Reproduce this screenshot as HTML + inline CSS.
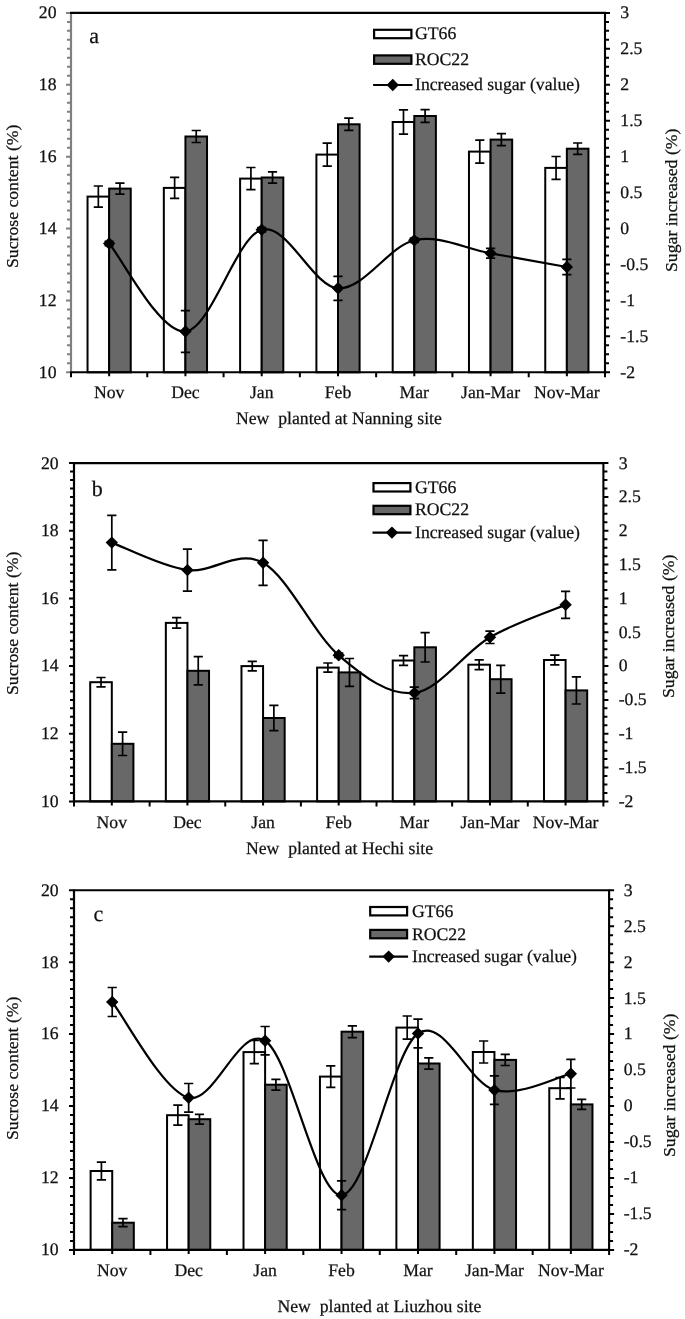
<!DOCTYPE html>
<html><head><meta charset="utf-8"><style>
html,body{margin:0;padding:0;background:#fff;}
body{position:relative;width:685px;height:1319px;overflow:hidden;}
.r{position:absolute;transform-origin:0 0;transform:rotate(-90deg);will-change:transform;font-family:"Liberation Serif", serif;font-size:17.7px;line-height:17.7px;white-space:nowrap;color:#111;-webkit-text-stroke:0.25px #111;}
svg{display:block;filter:grayscale(1);}
.t{font-family:"Liberation Serif", serif;font-size:17.7px;fill:#111;stroke:#111;stroke-width:0.25px;text-rendering:geometricPrecision;}
.p{font-family:"Liberation Serif", serif;font-size:22px;fill:#111;stroke:#111;stroke-width:0.25px;text-rendering:geometricPrecision;}
</style></head><body>
<svg width="685" height="1319" viewBox="0 0 685 1319">
<rect width="685" height="1319" fill="#fff"/>
<rect x="87.54" y="196.60" width="21.60" height="175.70" fill="#fff" stroke="#000" stroke-width="2"/>
<rect x="109.14" y="188.60" width="21.60" height="183.70" fill="#686868" stroke="#000" stroke-width="2"/>
<rect x="163.83" y="187.90" width="21.60" height="184.40" fill="#fff" stroke="#000" stroke-width="2"/>
<rect x="185.43" y="136.50" width="21.60" height="235.80" fill="#686868" stroke="#000" stroke-width="2"/>
<rect x="240.11" y="178.60" width="21.60" height="193.70" fill="#fff" stroke="#000" stroke-width="2"/>
<rect x="261.71" y="177.50" width="21.60" height="194.80" fill="#686868" stroke="#000" stroke-width="2"/>
<rect x="316.40" y="154.60" width="21.60" height="217.70" fill="#fff" stroke="#000" stroke-width="2"/>
<rect x="338.00" y="124.30" width="21.60" height="248.00" fill="#686868" stroke="#000" stroke-width="2"/>
<rect x="392.69" y="122.00" width="21.60" height="250.30" fill="#fff" stroke="#000" stroke-width="2"/>
<rect x="414.29" y="116.00" width="21.60" height="256.30" fill="#686868" stroke="#000" stroke-width="2"/>
<rect x="468.97" y="151.60" width="21.60" height="220.70" fill="#fff" stroke="#000" stroke-width="2"/>
<rect x="490.57" y="139.60" width="21.60" height="232.70" fill="#686868" stroke="#000" stroke-width="2"/>
<rect x="545.26" y="167.90" width="21.60" height="204.40" fill="#fff" stroke="#000" stroke-width="2"/>
<rect x="566.86" y="148.70" width="21.60" height="223.60" fill="#686868" stroke="#000" stroke-width="2"/>
<path d="M98.34,186.00V207.20M93.74,186.00H102.94M93.74,207.20H102.94" stroke="#000" stroke-width="1.7" fill="none"/>
<path d="M119.94,183.10V194.10M115.34,183.10H124.54M115.34,194.10H124.54" stroke="#000" stroke-width="1.7" fill="none"/>
<path d="M174.63,177.40V198.40M170.03,177.40H179.23M170.03,198.40H179.23" stroke="#000" stroke-width="1.7" fill="none"/>
<path d="M196.23,130.50V142.50M191.63,130.50H200.83M191.63,142.50H200.83" stroke="#000" stroke-width="1.7" fill="none"/>
<path d="M250.91,167.50V189.70M246.31,167.50H255.51M246.31,189.70H255.51" stroke="#000" stroke-width="1.7" fill="none"/>
<path d="M272.51,171.80V183.20M267.91,171.80H277.11M267.91,183.20H277.11" stroke="#000" stroke-width="1.7" fill="none"/>
<path d="M327.20,143.10V166.10M322.60,143.10H331.80M322.60,166.10H331.80" stroke="#000" stroke-width="1.7" fill="none"/>
<path d="M348.80,118.20V130.40M344.20,118.20H353.40M344.20,130.40H353.40" stroke="#000" stroke-width="1.7" fill="none"/>
<path d="M403.49,109.80V134.20M398.89,109.80H408.09M398.89,134.20H408.09" stroke="#000" stroke-width="1.7" fill="none"/>
<path d="M425.09,109.70V122.30M420.49,109.70H429.69M420.49,122.30H429.69" stroke="#000" stroke-width="1.7" fill="none"/>
<path d="M479.77,140.10V163.10M475.17,140.10H484.37M475.17,163.10H484.37" stroke="#000" stroke-width="1.7" fill="none"/>
<path d="M501.37,133.60V145.60M496.77,133.60H505.97M496.77,145.60H505.97" stroke="#000" stroke-width="1.7" fill="none"/>
<path d="M556.06,156.50V179.30M551.46,156.50H560.66M551.46,179.30H560.66" stroke="#000" stroke-width="1.7" fill="none"/>
<path d="M577.66,143.00V154.40M573.06,143.00H582.26M573.06,154.40H582.26" stroke="#000" stroke-width="1.7" fill="none"/>
<path d="M66.00,372.30H71.00M67.00,363.31H71.00M67.00,354.33H71.00M67.00,345.35H71.00M67.00,336.36H71.00M67.00,327.38H71.00M67.00,318.39H71.00M67.00,309.40H71.00M66.00,300.42H71.00M67.00,291.44H71.00M67.00,282.45H71.00M67.00,273.47H71.00M67.00,264.48H71.00M67.00,255.50H71.00M67.00,246.51H71.00M67.00,237.53H71.00M66.00,228.54H71.00M67.00,219.55H71.00M67.00,210.57H71.00M67.00,201.58H71.00M67.00,192.60H71.00M67.00,183.61H71.00M67.00,174.63H71.00M67.00,165.64H71.00M66.00,156.66H71.00M67.00,147.67H71.00M67.00,138.69H71.00M67.00,129.70H71.00M67.00,120.72H71.00M67.00,111.73H71.00M67.00,102.75H71.00M67.00,93.76H71.00M66.00,84.78H71.00M67.00,75.79H71.00M67.00,66.81H71.00M67.00,57.82H71.00M67.00,48.84H71.00M67.00,39.85H71.00M67.00,30.87H71.00M67.00,21.88H71.00M66.00,12.90H71.00" stroke="#808080" stroke-width="2" fill="none"/>
<line x1="71.00" y1="12.90" x2="71.00" y2="372.30" stroke="#808080" stroke-width="2.2"/>
<path d="M605.00,372.30H610.00M605.00,363.31H609.00M605.00,354.33H609.00M605.00,345.35H609.00M605.00,336.36H610.00M605.00,327.38H609.00M605.00,318.39H609.00M605.00,309.40H609.00M605.00,300.42H610.00M605.00,291.44H609.00M605.00,282.45H609.00M605.00,273.47H609.00M605.00,264.48H610.00M605.00,255.50H609.00M605.00,246.51H609.00M605.00,237.53H609.00M605.00,228.54H610.00M605.00,219.55H609.00M605.00,210.57H609.00M605.00,201.58H609.00M605.00,192.60H610.00M605.00,183.61H609.00M605.00,174.63H609.00M605.00,165.64H609.00M605.00,156.66H610.00M605.00,147.67H609.00M605.00,138.69H609.00M605.00,129.70H609.00M605.00,120.72H610.00M605.00,111.73H609.00M605.00,102.75H609.00M605.00,93.76H609.00M605.00,84.78H610.00M605.00,75.79H609.00M605.00,66.81H609.00M605.00,57.82H609.00M605.00,48.84H610.00M605.00,39.85H609.00M605.00,30.87H609.00M605.00,21.88H609.00M605.00,12.90H610.00" stroke="#000" stroke-width="2" fill="none"/>
<path d="M71.00,372.30V377.30M147.29,372.30V377.30M223.57,372.30V377.30M299.86,372.30V377.30M376.14,372.30V377.30M452.43,372.30V377.30M528.71,372.30V377.30M605.00,372.30V377.30M109.14,372.30V376.30M185.43,372.30V376.30M261.71,372.30V376.30M338.00,372.30V376.30M414.29,372.30V376.30M490.57,372.30V376.30M566.86,372.30V376.30" stroke="#000" stroke-width="2" fill="none"/>
<path d="M70.00,12.90H605.00V372.30" stroke="#000" stroke-width="2.1" fill="none"/>
<line x1="70.00" y1="372.30" x2="606.00" y2="372.30" stroke="#000" stroke-width="2.1"/>
<path d="M109.14,243.50 C121.86,258.17 160.00,333.80 185.43,331.50 C210.86,329.20 236.29,236.90 261.71,229.70 C287.14,222.50 312.57,286.53 338.00,288.30 C363.43,290.07 388.86,246.13 414.29,240.30 C439.71,234.47 465.14,248.85 490.57,253.30 C516.00,257.75 554.14,264.72 566.86,267.00" stroke="#000" stroke-width="2.2" fill="none"/>
<path d="M109.14,241.30V245.70M104.54,241.30H113.74M104.54,245.70H113.74" stroke="#000" stroke-width="1.7" fill="none"/>
<path d="M109.14,237.30L115.34,243.50L109.14,249.70L102.94,243.50Z" fill="#000"/>
<path d="M185.43,310.70V352.30M180.83,310.70H190.03M180.83,352.30H190.03" stroke="#000" stroke-width="1.7" fill="none"/>
<path d="M185.43,325.30L191.63,331.50L185.43,337.70L179.23,331.50Z" fill="#000"/>
<path d="M261.71,227.50V231.90M257.11,227.50H266.31M257.11,231.90H266.31" stroke="#000" stroke-width="1.7" fill="none"/>
<path d="M261.71,223.50L267.91,229.70L261.71,235.90L255.51,229.70Z" fill="#000"/>
<path d="M338.00,276.30V300.30M333.40,276.30H342.60M333.40,300.30H342.60" stroke="#000" stroke-width="1.7" fill="none"/>
<path d="M338.00,282.10L344.20,288.30L338.00,294.50L331.80,288.30Z" fill="#000"/>
<path d="M414.29,238.10V242.50M409.69,238.10H418.89M409.69,242.50H418.89" stroke="#000" stroke-width="1.7" fill="none"/>
<path d="M414.29,234.10L420.49,240.30L414.29,246.50L408.09,240.30Z" fill="#000"/>
<path d="M490.57,248.40V258.20M485.97,248.40H495.17M485.97,258.20H495.17" stroke="#000" stroke-width="1.7" fill="none"/>
<path d="M490.57,247.10L496.77,253.30L490.57,259.50L484.37,253.30Z" fill="#000"/>
<path d="M566.86,259.30V274.70M562.26,259.30H571.46M562.26,274.70H571.46" stroke="#000" stroke-width="1.7" fill="none"/>
<path d="M566.86,260.80L573.06,267.00L566.86,273.20L560.66,267.00Z" fill="#000"/>
<text x="56.50" y="377.70" text-anchor="end" class="t">10</text>
<text x="56.50" y="305.82" text-anchor="end" class="t">12</text>
<text x="56.50" y="233.94" text-anchor="end" class="t">14</text>
<text x="56.50" y="162.06" text-anchor="end" class="t">16</text>
<text x="56.50" y="90.18" text-anchor="end" class="t">18</text>
<text x="56.50" y="18.30" text-anchor="end" class="t">20</text>
<text x="620.30" y="377.70" class="t">-2</text>
<text x="620.30" y="341.76" class="t">-1.5</text>
<text x="620.30" y="305.82" class="t">-1</text>
<text x="620.30" y="269.88" class="t">-0.5</text>
<text x="620.30" y="233.94" class="t">0</text>
<text x="620.30" y="198.00" class="t">0.5</text>
<text x="620.30" y="162.06" class="t">1</text>
<text x="620.30" y="126.12" class="t">1.5</text>
<text x="620.30" y="90.18" class="t">2</text>
<text x="620.30" y="54.24" class="t">2.5</text>
<text x="620.30" y="18.30" class="t">3</text>
<text x="109.14" y="397.80" text-anchor="middle" class="t">Nov</text>
<text x="185.43" y="397.80" text-anchor="middle" class="t">Dec</text>
<text x="261.71" y="397.80" text-anchor="middle" class="t">Jan</text>
<text x="338.00" y="397.80" text-anchor="middle" class="t">Feb</text>
<text x="414.29" y="397.80" text-anchor="middle" class="t">Mar</text>
<text x="490.57" y="397.80" text-anchor="middle" class="t">Jan-Mar</text>
<text x="566.86" y="397.80" text-anchor="middle" class="t">Nov-Mar</text>
<text x="236.00" y="424.40" class="t" xml:space="preserve">New  planted at Nanning site</text>
<text x="89.20" y="43.00" class="p">a</text>
<rect x="374.10" y="29.80" width="37.30" height="8.40" fill="#fff" stroke="#000" stroke-width="2.2"/>
<rect x="374.10" y="55.40" width="37.30" height="8.40" fill="#686868" stroke="#000" stroke-width="2.2"/>
<line x1="373.10" y1="85.00" x2="412.40" y2="85.00" stroke="#000" stroke-width="2.2"/>
<path d="M392.75,78.80L398.95,85.00L392.75,91.20L386.55,85.00Z" fill="#000"/>
<text x="415.00" y="39.40" class="t">GT66</text>
<text x="415.00" y="64.80" class="t">ROC22</text>
<text x="415.00" y="90.00" class="t">Increased sugar (value)</text>
<rect x="90.21" y="682.20" width="21.60" height="119.20" fill="#fff" stroke="#000" stroke-width="2"/>
<rect x="111.81" y="743.80" width="21.60" height="57.60" fill="#686868" stroke="#000" stroke-width="2"/>
<rect x="165.84" y="622.90" width="21.60" height="178.50" fill="#fff" stroke="#000" stroke-width="2"/>
<rect x="187.44" y="670.80" width="21.60" height="130.60" fill="#686868" stroke="#000" stroke-width="2"/>
<rect x="241.47" y="666.10" width="21.60" height="135.30" fill="#fff" stroke="#000" stroke-width="2"/>
<rect x="263.07" y="718.00" width="21.60" height="83.40" fill="#686868" stroke="#000" stroke-width="2"/>
<rect x="317.10" y="667.60" width="21.60" height="133.80" fill="#fff" stroke="#000" stroke-width="2"/>
<rect x="338.70" y="672.40" width="21.60" height="129.00" fill="#686868" stroke="#000" stroke-width="2"/>
<rect x="392.73" y="660.50" width="21.60" height="140.90" fill="#fff" stroke="#000" stroke-width="2"/>
<rect x="414.33" y="647.30" width="21.60" height="154.10" fill="#686868" stroke="#000" stroke-width="2"/>
<rect x="468.36" y="664.70" width="21.60" height="136.70" fill="#fff" stroke="#000" stroke-width="2"/>
<rect x="489.96" y="679.20" width="21.60" height="122.20" fill="#686868" stroke="#000" stroke-width="2"/>
<rect x="543.99" y="660.00" width="21.60" height="141.40" fill="#fff" stroke="#000" stroke-width="2"/>
<rect x="565.59" y="690.40" width="21.60" height="111.00" fill="#686868" stroke="#000" stroke-width="2"/>
<path d="M101.01,677.50V686.90M96.41,677.50H105.61M96.41,686.90H105.61" stroke="#000" stroke-width="1.7" fill="none"/>
<path d="M122.61,732.10V755.50M118.01,732.10H127.21M118.01,755.50H127.21" stroke="#000" stroke-width="1.7" fill="none"/>
<path d="M176.64,617.70V628.10M172.04,617.70H181.24M172.04,628.10H181.24" stroke="#000" stroke-width="1.7" fill="none"/>
<path d="M198.24,656.70V684.90M193.64,656.70H202.84M193.64,684.90H202.84" stroke="#000" stroke-width="1.7" fill="none"/>
<path d="M252.27,661.30V670.90M247.67,661.30H256.87M247.67,670.90H256.87" stroke="#000" stroke-width="1.7" fill="none"/>
<path d="M273.87,705.40V730.60M269.27,705.40H278.47M269.27,730.60H278.47" stroke="#000" stroke-width="1.7" fill="none"/>
<path d="M327.90,663.00V672.20M323.30,663.00H332.50M323.30,672.20H332.50" stroke="#000" stroke-width="1.7" fill="none"/>
<path d="M349.50,658.50V686.30M344.90,658.50H354.10M344.90,686.30H354.10" stroke="#000" stroke-width="1.7" fill="none"/>
<path d="M403.53,655.60V665.40M398.93,655.60H408.13M398.93,665.40H408.13" stroke="#000" stroke-width="1.7" fill="none"/>
<path d="M425.13,632.60V662.00M420.53,632.60H429.73M420.53,662.00H429.73" stroke="#000" stroke-width="1.7" fill="none"/>
<path d="M479.16,659.80V669.60M474.56,659.80H483.76M474.56,669.60H483.76" stroke="#000" stroke-width="1.7" fill="none"/>
<path d="M500.76,665.30V693.10M496.16,665.30H505.36M496.16,693.10H505.36" stroke="#000" stroke-width="1.7" fill="none"/>
<path d="M554.79,655.10V664.90M550.19,655.10H559.39M550.19,664.90H559.39" stroke="#000" stroke-width="1.7" fill="none"/>
<path d="M576.39,676.80V704.00M571.79,676.80H580.99M571.79,704.00H580.99" stroke="#000" stroke-width="1.7" fill="none"/>
<path d="M69.00,801.40H74.00M70.00,792.94H74.00M70.00,784.49H74.00M70.00,776.03H74.00M70.00,767.57H74.00M70.00,759.11H74.00M70.00,750.65H74.00M70.00,742.20H74.00M69.00,733.74H74.00M70.00,725.28H74.00M70.00,716.83H74.00M70.00,708.37H74.00M70.00,699.91H74.00M70.00,691.45H74.00M70.00,683.00H74.00M70.00,674.54H74.00M69.00,666.08H74.00M70.00,657.62H74.00M70.00,649.16H74.00M70.00,640.71H74.00M70.00,632.25H74.00M70.00,623.79H74.00M70.00,615.34H74.00M70.00,606.88H74.00M69.00,598.42H74.00M70.00,589.96H74.00M70.00,581.50H74.00M70.00,573.05H74.00M70.00,564.59H74.00M70.00,556.13H74.00M70.00,547.67H74.00M70.00,539.22H74.00M69.00,530.76H74.00M70.00,522.30H74.00M70.00,513.85H74.00M70.00,505.39H74.00M70.00,496.93H74.00M70.00,488.47H74.00M70.00,480.01H74.00M70.00,471.56H74.00M69.00,463.10H74.00" stroke="#000" stroke-width="2" fill="none"/>
<line x1="74.00" y1="463.10" x2="74.00" y2="801.40" stroke="#000" stroke-width="2.2"/>
<path d="M603.40,801.40H608.40M603.40,792.94H607.40M603.40,784.49H607.40M603.40,776.03H607.40M603.40,767.57H608.40M603.40,759.11H607.40M603.40,750.65H607.40M603.40,742.20H607.40M603.40,733.74H608.40M603.40,725.28H607.40M603.40,716.83H607.40M603.40,708.37H607.40M603.40,699.91H608.40M603.40,691.45H607.40M603.40,683.00H607.40M603.40,674.54H607.40M603.40,666.08H608.40M603.40,657.62H607.40M603.40,649.16H607.40M603.40,640.71H607.40M603.40,632.25H608.40M603.40,623.79H607.40M603.40,615.34H607.40M603.40,606.88H607.40M603.40,598.42H608.40M603.40,589.96H607.40M603.40,581.50H607.40M603.40,573.05H607.40M603.40,564.59H608.40M603.40,556.13H607.40M603.40,547.67H607.40M603.40,539.22H607.40M603.40,530.76H608.40M603.40,522.30H607.40M603.40,513.85H607.40M603.40,505.39H607.40M603.40,496.93H608.40M603.40,488.47H607.40M603.40,480.01H607.40M603.40,471.56H607.40M603.40,463.10H608.40" stroke="#000" stroke-width="2" fill="none"/>
<path d="M74.00,801.40V806.40M149.63,801.40V806.40M225.26,801.40V806.40M300.89,801.40V806.40M376.51,801.40V806.40M452.14,801.40V806.40M527.77,801.40V806.40M603.40,801.40V806.40M111.81,801.40V805.40M187.44,801.40V805.40M263.07,801.40V805.40M338.70,801.40V805.40M414.33,801.40V805.40M489.96,801.40V805.40M565.59,801.40V805.40" stroke="#000" stroke-width="2" fill="none"/>
<path d="M73.00,463.10H603.40V801.40" stroke="#000" stroke-width="2.1" fill="none"/>
<line x1="73.00" y1="801.40" x2="604.40" y2="801.40" stroke="#000" stroke-width="2.1"/>
<path d="M111.81,542.60 C124.42,547.18 162.23,566.73 187.44,570.10 C212.65,573.47 237.86,548.60 263.07,562.80 C288.28,577.00 313.49,633.62 338.70,655.30 C363.91,676.98 389.12,695.90 414.33,692.90 C439.54,689.90 464.75,651.98 489.96,637.30 C515.17,622.62 552.98,610.22 565.59,604.80" stroke="#000" stroke-width="2.2" fill="none"/>
<path d="M111.81,515.40V569.80M107.21,515.40H116.41M107.21,569.80H116.41" stroke="#000" stroke-width="1.7" fill="none"/>
<path d="M111.81,536.40L118.01,542.60L111.81,548.80L105.61,542.60Z" fill="#000"/>
<path d="M187.44,549.10V591.10M182.84,549.10H192.04M182.84,591.10H192.04" stroke="#000" stroke-width="1.7" fill="none"/>
<path d="M187.44,563.90L193.64,570.10L187.44,576.30L181.24,570.10Z" fill="#000"/>
<path d="M263.07,540.30V585.30M258.47,540.30H267.67M258.47,585.30H267.67" stroke="#000" stroke-width="1.7" fill="none"/>
<path d="M263.07,556.60L269.27,562.80L263.07,569.00L256.87,562.80Z" fill="#000"/>
<path d="M338.70,653.10V657.50M334.10,653.10H343.30M334.10,657.50H343.30" stroke="#000" stroke-width="1.7" fill="none"/>
<path d="M338.70,649.10L344.90,655.30L338.70,661.50L332.50,655.30Z" fill="#000"/>
<path d="M414.33,687.10V698.70M409.73,687.10H418.93M409.73,698.70H418.93" stroke="#000" stroke-width="1.7" fill="none"/>
<path d="M414.33,686.70L420.53,692.90L414.33,699.10L408.13,692.90Z" fill="#000"/>
<path d="M489.96,631.10V643.50M485.36,631.10H494.56M485.36,643.50H494.56" stroke="#000" stroke-width="1.7" fill="none"/>
<path d="M489.96,631.10L496.16,637.30L489.96,643.50L483.76,637.30Z" fill="#000"/>
<path d="M565.59,591.30V618.30M560.99,591.30H570.19M560.99,618.30H570.19" stroke="#000" stroke-width="1.7" fill="none"/>
<path d="M565.59,598.60L571.79,604.80L565.59,611.00L559.39,604.80Z" fill="#000"/>
<text x="58.60" y="806.80" text-anchor="end" class="t">10</text>
<text x="58.60" y="739.14" text-anchor="end" class="t">12</text>
<text x="58.60" y="671.48" text-anchor="end" class="t">14</text>
<text x="58.60" y="603.82" text-anchor="end" class="t">16</text>
<text x="58.60" y="536.16" text-anchor="end" class="t">18</text>
<text x="58.60" y="468.50" text-anchor="end" class="t">20</text>
<text x="618.70" y="806.80" class="t">-2</text>
<text x="618.70" y="772.97" class="t">-1.5</text>
<text x="618.70" y="739.14" class="t">-1</text>
<text x="618.70" y="705.31" class="t">-0.5</text>
<text x="618.70" y="671.48" class="t">0</text>
<text x="618.70" y="637.65" class="t">0.5</text>
<text x="618.70" y="603.82" class="t">1</text>
<text x="618.70" y="569.99" class="t">1.5</text>
<text x="618.70" y="536.16" class="t">2</text>
<text x="618.70" y="502.33" class="t">2.5</text>
<text x="618.70" y="468.50" class="t">3</text>
<text x="111.81" y="827.50" text-anchor="middle" class="t">Nov</text>
<text x="187.44" y="827.50" text-anchor="middle" class="t">Dec</text>
<text x="263.07" y="827.50" text-anchor="middle" class="t">Jan</text>
<text x="338.70" y="827.50" text-anchor="middle" class="t">Feb</text>
<text x="414.33" y="827.50" text-anchor="middle" class="t">Mar</text>
<text x="489.96" y="827.50" text-anchor="middle" class="t">Jan-Mar</text>
<text x="565.59" y="827.50" text-anchor="middle" class="t">Nov-Mar</text>
<text x="246.00" y="853.60" class="t" xml:space="preserve">New  planted at Hechi site</text>
<text x="91.80" y="495.60" class="p">b</text>
<rect x="373.50" y="483.10" width="36.90" height="8.40" fill="#fff" stroke="#000" stroke-width="2.2"/>
<rect x="373.50" y="505.80" width="36.90" height="8.40" fill="#686868" stroke="#000" stroke-width="2.2"/>
<line x1="372.50" y1="532.60" x2="411.40" y2="532.60" stroke="#000" stroke-width="2.2"/>
<path d="M391.95,526.40L398.15,532.60L391.95,538.80L385.75,532.60Z" fill="#000"/>
<text x="415.00" y="493.40" class="t">GT66</text>
<text x="415.00" y="515.40" class="t">ROC22</text>
<text x="415.00" y="538.40" class="t">Increased sugar (value)</text>
<rect x="90.62" y="1171.00" width="21.60" height="78.90" fill="#fff" stroke="#000" stroke-width="2"/>
<rect x="112.22" y="1222.70" width="21.60" height="27.20" fill="#686868" stroke="#000" stroke-width="2"/>
<rect x="167.06" y="1115.20" width="21.60" height="134.70" fill="#fff" stroke="#000" stroke-width="2"/>
<rect x="188.66" y="1119.20" width="21.60" height="130.70" fill="#686868" stroke="#000" stroke-width="2"/>
<rect x="243.51" y="1052.10" width="21.60" height="197.80" fill="#fff" stroke="#000" stroke-width="2"/>
<rect x="265.11" y="1084.70" width="21.60" height="165.20" fill="#686868" stroke="#000" stroke-width="2"/>
<rect x="319.95" y="1076.60" width="21.60" height="173.30" fill="#fff" stroke="#000" stroke-width="2"/>
<rect x="341.55" y="1031.70" width="21.60" height="218.20" fill="#686868" stroke="#000" stroke-width="2"/>
<rect x="396.39" y="1027.60" width="21.60" height="222.30" fill="#fff" stroke="#000" stroke-width="2"/>
<rect x="417.99" y="1063.50" width="21.60" height="186.40" fill="#686868" stroke="#000" stroke-width="2"/>
<rect x="472.84" y="1052.00" width="21.60" height="197.90" fill="#fff" stroke="#000" stroke-width="2"/>
<rect x="494.44" y="1059.90" width="21.60" height="190.00" fill="#686868" stroke="#000" stroke-width="2"/>
<rect x="549.28" y="1088.20" width="21.60" height="161.70" fill="#fff" stroke="#000" stroke-width="2"/>
<rect x="570.88" y="1104.40" width="21.60" height="145.50" fill="#686868" stroke="#000" stroke-width="2"/>
<path d="M101.42,1162.10V1179.90M96.82,1162.10H106.02M96.82,1179.90H106.02" stroke="#000" stroke-width="1.7" fill="none"/>
<path d="M123.02,1218.70V1226.70M118.42,1218.70H127.62M118.42,1226.70H127.62" stroke="#000" stroke-width="1.7" fill="none"/>
<path d="M177.86,1105.20V1125.20M173.26,1105.20H182.46M173.26,1125.20H182.46" stroke="#000" stroke-width="1.7" fill="none"/>
<path d="M199.46,1114.30V1124.10M194.86,1114.30H204.06M194.86,1124.10H204.06" stroke="#000" stroke-width="1.7" fill="none"/>
<path d="M254.31,1040.50V1063.70M249.71,1040.50H258.91M249.71,1063.70H258.91" stroke="#000" stroke-width="1.7" fill="none"/>
<path d="M275.91,1079.30V1090.10M271.31,1079.30H280.51M271.31,1090.10H280.51" stroke="#000" stroke-width="1.7" fill="none"/>
<path d="M330.75,1065.90V1087.30M326.15,1065.90H335.35M326.15,1087.30H335.35" stroke="#000" stroke-width="1.7" fill="none"/>
<path d="M352.35,1025.80V1037.60M347.75,1025.80H356.95M347.75,1037.60H356.95" stroke="#000" stroke-width="1.7" fill="none"/>
<path d="M407.19,1016.00V1039.20M402.59,1016.00H411.79M402.59,1039.20H411.79" stroke="#000" stroke-width="1.7" fill="none"/>
<path d="M428.79,1057.90V1069.10M424.19,1057.90H433.39M424.19,1069.10H433.39" stroke="#000" stroke-width="1.7" fill="none"/>
<path d="M483.64,1041.00V1063.00M479.04,1041.00H488.24M479.04,1063.00H488.24" stroke="#000" stroke-width="1.7" fill="none"/>
<path d="M505.24,1054.30V1065.50M500.64,1054.30H509.84M500.64,1065.50H509.84" stroke="#000" stroke-width="1.7" fill="none"/>
<path d="M560.08,1077.50V1098.90M555.48,1077.50H564.68M555.48,1098.90H564.68" stroke="#000" stroke-width="1.7" fill="none"/>
<path d="M581.68,1099.40V1109.40M577.08,1099.40H586.28M577.08,1109.40H586.28" stroke="#000" stroke-width="1.7" fill="none"/>
<path d="M69.00,1249.90H74.00M70.00,1240.91H74.00M70.00,1231.92H74.00M70.00,1222.92H74.00M70.00,1213.93H74.00M70.00,1204.94H74.00M70.00,1195.95H74.00M70.00,1186.95H74.00M69.00,1177.96H74.00M70.00,1168.97H74.00M70.00,1159.98H74.00M70.00,1150.98H74.00M70.00,1141.99H74.00M70.00,1133.00H74.00M70.00,1124.01H74.00M70.00,1115.01H74.00M69.00,1106.02H74.00M70.00,1097.03H74.00M70.00,1088.04H74.00M70.00,1079.04H74.00M70.00,1070.05H74.00M70.00,1061.06H74.00M70.00,1052.07H74.00M70.00,1043.07H74.00M69.00,1034.08H74.00M70.00,1025.09H74.00M70.00,1016.10H74.00M70.00,1007.10H74.00M70.00,998.11H74.00M70.00,989.12H74.00M70.00,980.12H74.00M70.00,971.13H74.00M69.00,962.14H74.00M70.00,953.15H74.00M70.00,944.15H74.00M70.00,935.16H74.00M70.00,926.17H74.00M70.00,917.18H74.00M70.00,908.19H74.00M70.00,899.19H74.00M69.00,890.20H74.00" stroke="#000" stroke-width="2" fill="none"/>
<line x1="74.00" y1="890.20" x2="74.00" y2="1249.90" stroke="#000" stroke-width="2.2"/>
<path d="M609.10,1249.90H614.10M609.10,1240.91H613.10M609.10,1231.92H613.10M609.10,1222.92H613.10M609.10,1213.93H614.10M609.10,1204.94H613.10M609.10,1195.95H613.10M609.10,1186.95H613.10M609.10,1177.96H614.10M609.10,1168.97H613.10M609.10,1159.98H613.10M609.10,1150.98H613.10M609.10,1141.99H614.10M609.10,1133.00H613.10M609.10,1124.01H613.10M609.10,1115.01H613.10M609.10,1106.02H614.10M609.10,1097.03H613.10M609.10,1088.04H613.10M609.10,1079.04H613.10M609.10,1070.05H614.10M609.10,1061.06H613.10M609.10,1052.07H613.10M609.10,1043.07H613.10M609.10,1034.08H614.10M609.10,1025.09H613.10M609.10,1016.10H613.10M609.10,1007.10H613.10M609.10,998.11H614.10M609.10,989.12H613.10M609.10,980.12H613.10M609.10,971.13H613.10M609.10,962.14H614.10M609.10,953.15H613.10M609.10,944.15H613.10M609.10,935.16H613.10M609.10,926.17H614.10M609.10,917.18H613.10M609.10,908.19H613.10M609.10,899.19H613.10M609.10,890.20H614.10" stroke="#000" stroke-width="2" fill="none"/>
<path d="M74.00,1249.90V1254.90M150.44,1249.90V1254.90M226.89,1249.90V1254.90M303.33,1249.90V1254.90M379.77,1249.90V1254.90M456.21,1249.90V1254.90M532.66,1249.90V1254.90M609.10,1249.90V1254.90M112.22,1249.90V1253.90M188.66,1249.90V1253.90M265.11,1249.90V1253.90M341.55,1249.90V1253.90M417.99,1249.90V1253.90M494.44,1249.90V1253.90M570.88,1249.90V1253.90" stroke="#000" stroke-width="2" fill="none"/>
<path d="M73.00,890.20H609.10V1249.90" stroke="#000" stroke-width="2.1" fill="none"/>
<line x1="73.00" y1="1249.90" x2="610.10" y2="1249.90" stroke="#000" stroke-width="2.1"/>
<path d="M112.22,1002.00 C124.96,1017.97 163.18,1091.35 188.66,1097.80 C214.15,1104.25 239.63,1024.47 265.11,1040.70 C290.59,1056.93 316.07,1196.40 341.55,1195.20 C367.03,1194.00 392.51,1051.02 417.99,1033.50 C443.47,1015.98 468.95,1083.40 494.44,1090.10 C519.92,1096.80 558.14,1076.43 570.88,1073.70" stroke="#000" stroke-width="2.2" fill="none"/>
<path d="M112.22,987.50V1016.50M107.62,987.50H116.82M107.62,1016.50H116.82" stroke="#000" stroke-width="1.7" fill="none"/>
<path d="M112.22,995.80L118.42,1002.00L112.22,1008.20L106.02,1002.00Z" fill="#000"/>
<path d="M188.66,1083.50V1112.10M184.06,1083.50H193.26M184.06,1112.10H193.26" stroke="#000" stroke-width="1.7" fill="none"/>
<path d="M188.66,1091.60L194.86,1097.80L188.66,1104.00L182.46,1097.80Z" fill="#000"/>
<path d="M265.11,1026.50V1054.90M260.51,1026.50H269.71M260.51,1054.90H269.71" stroke="#000" stroke-width="1.7" fill="none"/>
<path d="M265.11,1034.50L271.31,1040.70L265.11,1046.90L258.91,1040.70Z" fill="#000"/>
<path d="M341.55,1180.80V1209.60M336.95,1180.80H346.15M336.95,1209.60H346.15" stroke="#000" stroke-width="1.7" fill="none"/>
<path d="M341.55,1189.00L347.75,1195.20L341.55,1201.40L335.35,1195.20Z" fill="#000"/>
<path d="M417.99,1019.20V1047.80M413.39,1019.20H422.59M413.39,1047.80H422.59" stroke="#000" stroke-width="1.7" fill="none"/>
<path d="M417.99,1027.30L424.19,1033.50L417.99,1039.70L411.79,1033.50Z" fill="#000"/>
<path d="M494.44,1075.90V1104.30M489.84,1075.90H499.04M489.84,1104.30H499.04" stroke="#000" stroke-width="1.7" fill="none"/>
<path d="M494.44,1083.90L500.64,1090.10L494.44,1096.30L488.24,1090.10Z" fill="#000"/>
<path d="M570.88,1059.40V1088.00M566.28,1059.40H575.48M566.28,1088.00H575.48" stroke="#000" stroke-width="1.7" fill="none"/>
<path d="M570.88,1067.50L577.08,1073.70L570.88,1079.90L564.68,1073.70Z" fill="#000"/>
<text x="58.60" y="1255.30" text-anchor="end" class="t">10</text>
<text x="58.60" y="1183.36" text-anchor="end" class="t">12</text>
<text x="58.60" y="1111.42" text-anchor="end" class="t">14</text>
<text x="58.60" y="1039.48" text-anchor="end" class="t">16</text>
<text x="58.60" y="967.54" text-anchor="end" class="t">18</text>
<text x="58.60" y="895.60" text-anchor="end" class="t">20</text>
<text x="623.70" y="1255.30" class="t">-2</text>
<text x="623.70" y="1219.33" class="t">-1.5</text>
<text x="623.70" y="1183.36" class="t">-1</text>
<text x="623.70" y="1147.39" class="t">-0.5</text>
<text x="623.70" y="1111.42" class="t">0</text>
<text x="623.70" y="1075.45" class="t">0.5</text>
<text x="623.70" y="1039.48" class="t">1</text>
<text x="623.70" y="1003.51" class="t">1.5</text>
<text x="623.70" y="967.54" class="t">2</text>
<text x="623.70" y="931.57" class="t">2.5</text>
<text x="623.70" y="895.60" class="t">3</text>
<text x="112.22" y="1276.00" text-anchor="middle" class="t">Nov</text>
<text x="188.66" y="1276.00" text-anchor="middle" class="t">Dec</text>
<text x="265.11" y="1276.00" text-anchor="middle" class="t">Jan</text>
<text x="341.55" y="1276.00" text-anchor="middle" class="t">Feb</text>
<text x="417.99" y="1276.00" text-anchor="middle" class="t">Mar</text>
<text x="494.44" y="1276.00" text-anchor="middle" class="t">Jan-Mar</text>
<text x="570.88" y="1276.00" text-anchor="middle" class="t">Nov-Mar</text>
<text x="277.50" y="1311.60" class="t" xml:space="preserve">New  planted at Liuzhou site</text>
<text x="93.60" y="920.60" class="p">c</text>
<rect x="370.20" y="907.00" width="36.90" height="8.40" fill="#fff" stroke="#000" stroke-width="2.2"/>
<rect x="370.20" y="929.90" width="36.90" height="8.40" fill="#686868" stroke="#000" stroke-width="2.2"/>
<line x1="369.20" y1="956.60" x2="408.10" y2="956.60" stroke="#000" stroke-width="2.2"/>
<path d="M388.65,950.40L394.85,956.60L388.65,962.80L382.45,956.60Z" fill="#000"/>
<text x="412.00" y="917.00" class="t">GT66</text>
<text x="412.00" y="939.80" class="t">ROC22</text>
<text x="412.00" y="962.20" class="t">Increased sugar (value)</text>
</svg>
<div class="r" style="left:3.58px;top:268.00px">Sucrose content (%)</div>
<div class="r" style="left:662.68px;top:272.20px">Sugar increased (%)</div>
<div class="r" style="left:4.28px;top:695.10px">Sucrose content (%)</div>
<div class="r" style="left:659.58px;top:697.80px">Sugar increased (%)</div>
<div class="r" style="left:3.58px;top:1140.00px">Sucrose content (%)</div>
<div class="r" style="left:660.88px;top:1157.10px">Sugar increased (%)</div>
</body></html>
